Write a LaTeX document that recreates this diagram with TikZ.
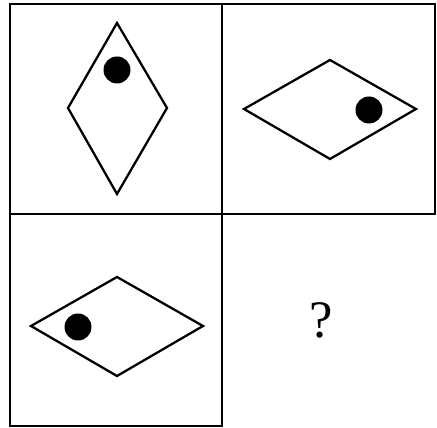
\documentclass[tikz,border=0pt]{standalone}
\usepackage{fontspec}
\setmainfont{Liberation Serif}
\usepackage{tikz}
\usetikzlibrary{positioning}

\tikzset{
    cell/.style={line width=1.6pt},
    rhomb/.style={line width=1.3pt, line join=miter},
    dot/.style={fill=black}
}

\begin{document}
\begin{tikzpicture}[x=0.02cm, y=-0.02cm]
    \useasboundingbox (0, 0) rectangle (437, 428);

    % Grid cells
    \draw[cell] (10, 4) rectangle (222, 214);
    \draw[cell] (222, 4) rectangle (435, 214);
    \draw[cell] (10, 214) rectangle (222, 426);

    % Top left: upright rhombus, dot near top
    \draw[rhomb] (117, 23) -- (167, 108) -- (117, 194) -- (68, 108) -- cycle;
    \fill[dot] (117, 70) circle (13.5);

    % Top right: lying rhombus, dot near right
    \draw[rhomb] (330, 60) -- (416, 109) -- (330, 159) -- (244, 109) -- cycle;
    \fill[dot] (369, 110) circle (13.5);

    % Bottom left: lying rhombus, dot near left
    \draw[rhomb] (117, 277) -- (203, 326) -- (117, 376) -- (31, 326) -- cycle;
    \fill[dot] (78, 327) circle (13.5);

    % Missing cell
    \node[font=\fontsize{30}{32}\selectfont] (ask) at (321, 320) {?};
\end{tikzpicture}
\end{document}
